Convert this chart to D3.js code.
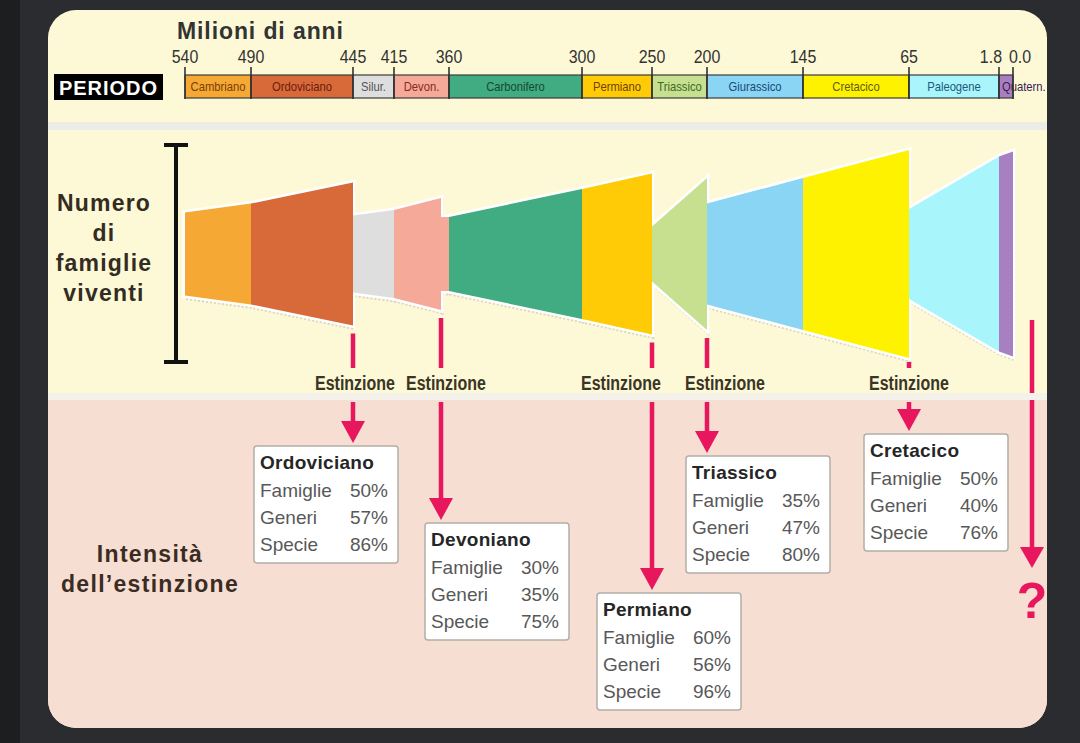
<!DOCTYPE html>
<html>
<head>
<meta charset="utf-8">
<script src="https://cdn.jsdelivr.net/npm/d3@7"></script>
<style>
  body { margin: 0; background: #2b2c2f; }
  svg { display: block; }
</style>
</head>
<body>
<svg id="chart" width="1080" height="743"></svg>
<script>
// periods and time axis
const periodNames = ["Cambriano", "Ordoviciano", "Silur.", "Devon.", "Carbonifero", "Permiano",
  "Triassico", "Giurassico", "Cretacico", "Paleogene", "Quatern."]
const boundaryAges = [540, 490, 445, 415, 360, 300, 250, 200, 145, 65, 1.8, 0]
const tickLabels = ["540", "490", "445", "415", "360", "300", "250", "200", "145", "65", "1.8", "0.0"]

// number of living families (relative), piece by piece
const segmentStart = [540, 490, 445, 415, 368, 360, 300, 250, 200, 145, 65, 1.8]
const segmentEnd = [490, 445, 415, 368, 360, 300, 250, 200, 145, 65, 1.8, 0]
const familiesStart = [415, 505, 385, 440, 370, 370, 650, 275, 505, 760, 450, 975]
const familiesEnd = [505, 715, 440, 560, 370, 650, 805, 760, 760, 1040, 975, 1025]

// the five big extinctions
const extinctionNames = ["Ordoviciano", "Devoniano", "Permiano", "Triassico", "Cretacico"]
const extinctionAges = [445, 368, 250, 200, 65]
const famigliePct = [50, 30, 60, 35, 50]
const generiPct = [57, 35, 56, 47, 40]
const speciePct = [86, 75, 96, 80, 76]

// layout
const periodColors = ["#f5a834", "#d86a39", "#dedede", "#f5a999", "#41ab82", "#ffcb06",
  "#c6e08f", "#8bd5f4", "#fff200", "#a8f6fc", "#a87fc0"]
const periodTextColors = ["#7a3f08", "#6a1a0e", "#555555", "#8a2a1c", "#164a32", "#6e4300",
  "#3c6a24", "#184a78", "#5e5e08", "#22587a", "#3a2050"]
const axisStops = [185, 251, 353, 394, 449, 582, 652, 707, 803, 909, 999, 1013]
const boxX = [254, 425, 597, 686, 864]
const boxY = [446, 523, 593, 456, 434]
const labelShift = [2, 5, -31, 18, 0]
const midY = 254
const red = "#e8175d"
const sans = "'Liberation Sans', Arial, sans-serif"

const x = d3.scaleLinear().domain(boundaryAges).range(axisStops)
const h = d3.scaleLinear().domain([0, 1000]).range([0, 100])

// squeeze text horizontally (no narrow font installed)
function narrow(sel, fx, fy, k) {
  sel.attr('x', 0).attr('y', 0)
    .attr('transform', (d, i) => 'translate(' + fx(d, i) + ',' + fy(d, i) + ') scale(' + k + ',1)')
}

const svg = d3.select('#chart')

// dark frame
svg.append('rect').attr('width', 1080).attr('height', 743).attr('fill', '#2b2c2f')
svg.append('rect').attr('width', 20).attr('height', 743).attr('fill', '#1d1e20')

// panel
svg.append('clipPath').attr('id', 'panelClip')
  .append('rect')
  .attr('x', 48).attr('y', 10).attr('width', 999).attr('height', 718).attr('rx', 28)

const panel = svg.append('g').attr('clip-path', 'url(#panelClip)')
panel.append('rect')
  .attr('x', 48).attr('y', 10).attr('width', 999).attr('height', 718)
  .attr('fill', '#fdf9d7')
panel.append('rect')
  .attr('x', 48).attr('y', 400).attr('width', 999).attr('height', 328)
  .attr('fill', '#f6ded2')
panel.append('rect')
  .attr('x', 48).attr('y', 122).attr('width', 999).attr('height', 8)
  .attr('fill', '#ecede6')

// title
panel.append('text')
  .attr('x', 177).attr('y', 39)
  .style('font-family', sans).style('font-weight', 'bold')
  .style('font-size', '23px').style('letter-spacing', '0.9px')
  .attr('fill', '#333')
  .text('Milioni di anni')

// PERIODO label
panel.append('rect')
  .attr('x', 54).attr('y', 74).attr('width', 109).attr('height', 26)
  .attr('fill', '#000')
panel.append('text')
  .attr('x', 108.5).attr('y', 95)
  .attr('text-anchor', 'middle')
  .style('font-family', sans).style('font-weight', 'bold')
  .style('font-size', '20px').style('letter-spacing', '1px')
  .attr('fill', '#fff')
  .text('PERIODO')

// period bar
const periods = periodNames.map((name, i) => ({
  name: name, start: boundaryAges[i], end: boundaryAges[i + 1], i: i
}))
const last = periods.length - 1

panel.selectAll('rect.period')
  .data(periods)
  .join('rect')
  .attr('class', 'period')
  .attr('x', d => x(d.start))
  .attr('y', 75)
  .attr('width', d => x(d.end) - x(d.start))
  .attr('height', 23)
  .attr('fill', d => periodColors[d.i])
  .attr('stroke', '#3a3a3a')
  .attr('stroke-width', 1.2)

panel.selectAll('text.period')
  .data(periods)
  .join('text')
  .attr('class', 'period')
  .attr('text-anchor', d => d.i == last ? 'start' : 'middle')
  .style('font-family', sans)
  .style('font-size', '12.5px')
  .attr('fill', d => periodTextColors[d.i])
  .text(d => d.name)
  .call(narrow, d => d.i == last ? x(d.start) + 3 : (x(d.start) + x(d.end)) / 2, () => 91, 0.9)

// ticks and tick labels
panel.selectAll('line.tick')
  .data(boundaryAges)
  .join('line')
  .attr('class', 'tick')
  .attr('x1', d => x(d)).attr('x2', d => x(d))
  .attr('y1', 67).attr('y2', 99)
  .attr('stroke', '#333')
  .attr('stroke-width', 1.6)

panel.selectAll('text.tick')
  .data(boundaryAges)
  .join('text')
  .attr('class', 'tick')
  .attr('text-anchor', (d, i) => i == 10 ? 'end' : i == 11 ? 'start' : 'middle')
  .style('font-family', sans)
  .style('font-size', '19px')
  .attr('fill', '#333')
  .text((d, i) => tickLabels[i])
  .call(narrow, (d, i) => i == 10 ? x(d) + 3 : i == 11 ? x(d) - 4 : x(d), () => 63, 0.84)

// left labels
const famLines = ['Numero', 'di', 'famiglie', 'viventi']
panel.selectAll('text.fam')
  .data(famLines)
  .join('text')
  .attr('class', 'fam')
  .attr('x', 104)
  .attr('y', (d, i) => 211 + i * 30)
  .attr('text-anchor', 'middle')
  .style('font-family', sans).style('font-weight', 'bold')
  .style('font-size', '23px').style('letter-spacing', '1.2px')
  .attr('fill', '#332c22')
  .text(d => d)

const intLines = ['Intensità', 'dell\u2019estinzione']
panel.selectAll('text.int')
  .data(intLines)
  .join('text')
  .attr('class', 'int')
  .attr('x', 150)
  .attr('y', (d, i) => 562 + i * 30)
  .attr('text-anchor', 'middle')
  .style('font-family', sans).style('font-weight', 'bold')
  .style('font-size', '23px').style('letter-spacing', '1.3px')
  .attr('fill', '#3a2c22')
  .text(d => d)

// I-bar
const bar = panel.append('g').attr('stroke', '#111').attr('stroke-width', 4)
bar.append('line').attr('x1', 176).attr('x2', 176).attr('y1', 145).attr('y2', 362)
bar.append('line').attr('x1', 164).attr('x2', 188).attr('y1', 145).attr('y2', 145)
bar.append('line').attr('x1', 164).attr('x2', 188).attr('y1', 362).attr('y2', 362)

// family shapes
const segments = segmentStart.map((s, i) => {
  const mid = (s + segmentEnd[i]) / 2
  let p = 0
  while (p < last && !(mid <= periods[p].start && mid > periods[p].end)) p++
  return { start: s, end: segmentEnd[i], v0: familiesStart[i], v1: familiesEnd[i], p: p }
})

function trapezoid(d) {
  return [
    [x(d.start), midY - h(d.v0)],
    [x(d.end), midY - h(d.v1)],
    [x(d.end), midY + h(d.v1)],
    [x(d.start), midY + h(d.v0)]
  ].join(' ')
}

// faint shadow, white outline, then the fills
panel.selectAll('polygon.shadow')
  .data(segments)
  .join('polygon')
  .attr('class', 'shadow')
  .attr('points', trapezoid)
  .attr('transform', 'translate(1,3)')
  .attr('fill', 'none')
  .attr('stroke', '#d9d6c4')
  .attr('stroke-width', 3)
  .attr('stroke-dasharray', '2,2')

panel.selectAll('polygon.outline')
  .data(segments)
  .join('polygon')
  .attr('class', 'outline')
  .attr('points', trapezoid)
  .attr('fill', '#fff')
  .attr('stroke', '#fff')
  .attr('stroke-width', 5)

panel.selectAll('polygon.shape')
  .data(segments)
  .join('polygon')
  .attr('class', 'shape')
  .attr('points', trapezoid)
  .attr('fill', d => periodColors[d.p])

// extinctions
const extinctions = extinctionNames.map((name, i) => {
  const seg = segments.find(s => s.end == extinctionAges[i])
  return {
    name: name, age: extinctionAges[i], bottom: midY + h(seg.v1),
    fam: famigliePct[i], gen: generiPct[i], spe: speciePct[i], i: i
  }
})

const arrows = panel.append('g')

// short line under the shape
arrows.selectAll('line.top')
  .data(extinctions)
  .join('line')
  .attr('class', 'top')
  .attr('x1', d => x(d.age)).attr('x2', d => x(d.age))
  .attr('y1', d => Math.min(d.bottom + 8, 362))
  .attr('y2', 368)
  .attr('stroke', red)
  .attr('stroke-width', 4.5)

arrows.selectAll('text.est')
  .data(extinctions)
  .join('text')
  .attr('class', 'est')
  .attr('text-anchor', 'middle')
  .style('font-family', sans).style('font-weight', 'bold')
  .style('font-size', '20px')
  .attr('fill', '#3b3526')
  .text('Estinzione')
  .call(narrow, d => x(d.age) + labelShift[d.i], () => 390, 0.8)

// arrows down to the boxes
arrows.selectAll('line.down')
  .data(extinctions)
  .join('line')
  .attr('class', 'down')
  .attr('x1', d => x(d.age)).attr('x2', d => x(d.age))
  .attr('y1', 402)
  .attr('y2', d => boxY[d.i] - 22)
  .attr('stroke', red)
  .attr('stroke-width', 4.5)

arrows.selectAll('polygon.head')
  .data(extinctions)
  .join('polygon')
  .attr('class', 'head')
  .attr('points', d => {
    const ax = x(d.age), tip = boxY[d.i] - 3
    return [[ax - 12, tip - 22], [ax + 12, tip - 22], [ax, tip]].join(' ')
  })
  .attr('fill', red)

// future extinction
arrows.append('line')
  .attr('x1', 1032).attr('x2', 1032).attr('y1', 320).attr('y2', 550)
  .attr('stroke', red).attr('stroke-width', 4.5)
arrows.append('polygon')
  .attr('points', [[1020, 547], [1044, 547], [1032, 568]].join(' '))
  .attr('fill', red)
arrows.append('text')
  .attr('x', 1032).attr('y', 618)
  .attr('text-anchor', 'middle')
  .style('font-family', sans).style('font-weight', 'bold').style('font-size', '50px')
  .attr('fill', red)
  .text('?')

// light band between the two parts
panel.append('rect')
  .attr('x', 48).attr('y', 393).attr('width', 999).attr('height', 7)
  .attr('fill', '#f4f1ea')

// info boxes
const boxes = panel.selectAll('g.box')
  .data(extinctions)
  .join('g')
  .attr('class', 'box')
  .attr('transform', d => 'translate(' + boxX[d.i] + ',' + boxY[d.i] + ')')

boxes.append('rect')
  .attr('width', 144).attr('height', 117).attr('rx', 3)
  .attr('fill', '#fff')
  .attr('stroke', '#b3aea8')
  .attr('stroke-width', 1.5)

boxes.append('text')
  .attr('x', 6).attr('y', 23)
  .style('font-family', sans).style('font-weight', 'bold')
  .style('font-size', '19px').style('letter-spacing', '0.3px')
  .attr('fill', '#262626')
  .text(d => d.name)

const rowNames = ['Famiglie', 'Generi', 'Specie']
rowNames.forEach((row, r) => {
  boxes.append('text')
    .attr('x', 6).attr('y', 51 + r * 27)
    .style('font-family', sans).style('font-size', '19px')
    .attr('fill', '#585858')
    .text(row)
  boxes.append('text')
    .attr('x', 134).attr('y', 51 + r * 27)
    .attr('text-anchor', 'end')
    .style('font-family', sans).style('font-size', '19px')
    .attr('fill', '#585858')
    .text(d => [d.fam, d.gen, d.spe][r] + '%')
})
</script>
</body>
</html>
